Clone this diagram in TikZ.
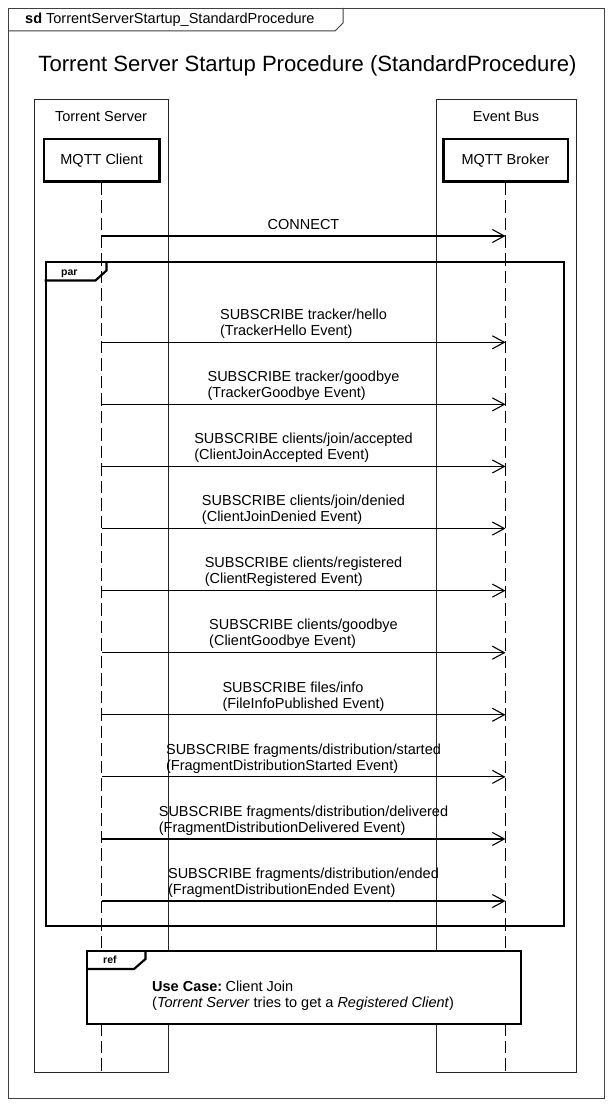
\documentclass[tikz,border=0pt]{standalone}
\usepackage{fontspec}
\setmainfont{Liberation Sans}
\usetikzlibrary{arrows.meta}
\begin{document}
\begin{tikzpicture}[x=1pt,y=-1pt,
  txt/.style={font=\fontsize{14.5}{16}\selectfont, inner sep=0pt},
  msg/.style={txt, anchor=south, align=left},
  tablbl/.style={font=\fontsize{10.5}{12}\selectfont\bfseries, inner sep=0pt, anchor=base west},
  frameline/.style={draw=black!75, line width=1pt},
  lifebox/.style={draw=black!85, line width=1.1pt, inner sep=0pt, anchor=north west},
  fragbox/.style={draw=black, line width=2.2pt},
  headbox/.style={draw=black, line width=2.5pt, txt, minimum height=42.5pt},
  lifeline/.style={draw=black, line width=1pt, dash pattern=on 12.5pt off 5pt},
  call/.style={draw=black, line width=1.1pt, -{Straight Barb[length=12pt,width=13pt]}}
]
\useasboundingbox (0,0) rectangle (613,1107);
\fill[white] (0,0) rectangle (613,1107);

% outer sd frame
\node[frameline, inner sep=0pt, anchor=north west, minimum width=596pt, minimum height=1090pt] (sdframe) at (8,8) {};
\draw[frameline] (8,31) -- (335,31) -- (343,23) -- (343,8);
\node[txt, anchor=base west] (sdlabel) at (25,24) {\textbf{sd} TorrentServerStartup\_StandardProcedure};

% title
\node[inner sep=0pt, anchor=base, font=\fontsize{22.1}{24}\selectfont] (title) at (307.5,72) {Torrent Server Startup Procedure (StandardProcedure)};

% lifeline containers
\node[lifebox, minimum width=134pt, minimum height=973pt] (tsbox) at (34,99) {};
\node[lifebox, minimum width=140pt, minimum height=973pt] (ebbox) at (436,99) {};
\node[txt, anchor=base] (tslabel) at (101,122) {Torrent Server};
\node[txt, anchor=base] (eblabel) at (506,122) {Event Bus};

% heads
\node[headbox, minimum width=115.5pt] (client) at (101.5,160.5) {MQTT Client};
\node[headbox, minimum width=124.5pt] (broker) at (505.5,160.5) {MQTT Broker};

% lifelines
\coordinate (cend) at (101.5,1072);
\coordinate (bend) at (505.5,1072);
\draw[lifeline] (client.south) -- (cend);
\draw[lifeline] (broker.south) -- (bend);

% CONNECT
\coordinate (c0) at (101.5,236);
\coordinate (b0) at (505.5,236);
\draw[call] (c0) -- (b0);
\node[txt, anchor=base] (m0) at (303.5,229.5) {CONNECT};

% par fragment
\node[fragbox, inner sep=0pt, anchor=north west, minimum width=518pt, minimum height=664pt] (par) at (44.5,261) {};
\draw[fragbox] (44.5,280.5) -- (95.5,280.5) -- (106.5,270.5) -- (106.5,261);
\node[tablbl] (parlbl) at (61,275) {par};

% messages
\foreach \i/\la/\lb in {
  0/{SUBSCRIBE tracker/hello}/{(TrackerHello Event)},
  1/{SUBSCRIBE tracker/goodbye}/{(TrackerGoodbye Event)},
  2/{SUBSCRIBE clients/join/accepted}/{(ClientJoinAccepted Event)},
  3/{SUBSCRIBE clients/join/denied}/{(ClientJoinDenied Event)},
  4/{SUBSCRIBE clients/registered}/{(ClientRegistered Event)},
  5/{SUBSCRIBE clients/goodbye}/{(ClientGoodbye Event)},
  6/{SUBSCRIBE files/info}/{(FileInfoPublished Event)},
  7/{SUBSCRIBE fragments/distribution/started}/{(FragmentDistributionStarted Event)},
  8/{SUBSCRIBE fragments/distribution/delivered}/{(FragmentDistributionDelivered Event)},
  9/{SUBSCRIBE fragments/distribution/ended}/{(FragmentDistributionEnded Event)}}{
  \pgfmathsetmacro{\yy}{342.3+62.08*\i}
  \coordinate (cs\i) at (101.5,\yy);
  \coordinate (bs\i) at (505.5,\yy);
  \draw[call] (cs\i) -- (bs\i);
  \node[msg] (ms\i) at (303.5,\yy-3.5) {\la\\\lb};
}

% ref fragment
\node[fragbox, fill=white, inner sep=0pt, anchor=north west, minimum width=434pt, minimum height=73pt] (ref) at (86,950) {};
\draw[fragbox] (86,969) -- (134,969) -- (145.5,959) -- (145.5,950);
\node[tablbl] (reflbl) at (103,963) {ref};
\node[txt, anchor=north west, align=left] (reftext) at (152,981) {\textbf{Use Case:}\kern-0.8pt\ Client Join\\(\textit{Torrent Server} tries to get a \textit{Registered Client})};
\end{tikzpicture}
\end{document}
